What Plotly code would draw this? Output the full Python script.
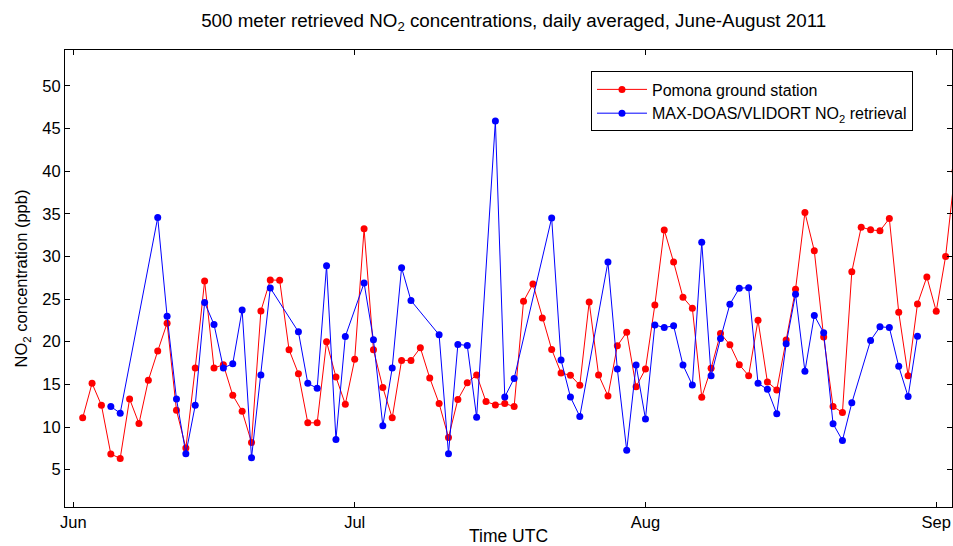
import pandas as pd
import plotly.graph_objects as go

# Pomona ground station, daily means (ppb), one value per day from 2 June 2011
pomona_start = "2011-06-02"
pomona_no2 = [
    11.07, 15.12, 12.55, 6.83, 6.32, 13.29, 10.41, 15.47, 18.9, 22.17,
    11.97, 7.53, 16.92, 27.12, 16.92, 17.3, 13.72, 11.85, 8.19, 23.61,
    27.24, 27.2, 19.06, 16.25, 10.49, 10.49, 19.99, 15.86, 12.67, 17.93,
    33.23, 19.06, 14.62, 11.07, 17.81, 17.81, 19.29, 15.75, 12.75, 8.78,
    13.22, 15.2, 16.1, 12.98, 12.59, 12.75, 12.4, 24.74, 26.77, 22.79,
    19.1, 16.33, 16.06, 14.89, 24.66, 16.1, 13.64, 19.52, 21.12, 14.73,
    16.8, 24.31, 33.11, 29.33, 25.2, 23.92, 13.5, 16.88, 20.97, 19.64,
    17.31, 16.02, 22.52, 15.28, 14.35, 20.19, 26.14, 35.14, 30.66, 20.54,
    12.4, 11.7, 28.21, 33.43, 33.12, 33.0, 34.44, 23.46, 16.02, 24.43,
    27.59, 23.57, 30.0, 40.0,
]
pomona_dates = pd.date_range(pomona_start, periods=len(pomona_no2), freq="D")

# MAX-DOAS / VLIDORT retrieval at 500 m, days with valid retrievals only
maxdoas_dates = [
    "2011-06-05", "2011-06-06", "2011-06-10", "2011-06-11", "2011-06-12",
    "2011-06-13", "2011-06-14", "2011-06-15", "2011-06-16", "2011-06-17",
    "2011-06-18", "2011-06-19", "2011-06-20", "2011-06-21", "2011-06-22",
    "2011-06-25", "2011-06-26", "2011-06-27", "2011-06-28", "2011-06-29",
    "2011-06-30", "2011-07-02", "2011-07-03", "2011-07-04", "2011-07-05",
    "2011-07-06", "2011-07-07", "2011-07-10", "2011-07-11", "2011-07-12",
    "2011-07-13", "2011-07-14", "2011-07-16", "2011-07-17", "2011-07-18",
    "2011-07-22", "2011-07-23", "2011-07-24", "2011-07-25", "2011-07-28",
    "2011-07-29", "2011-07-30", "2011-07-31", "2011-08-01", "2011-08-02",
    "2011-08-03", "2011-08-04", "2011-08-05", "2011-08-06", "2011-08-07",
    "2011-08-08", "2011-08-09", "2011-08-10", "2011-08-11", "2011-08-12",
    "2011-08-13", "2011-08-14", "2011-08-15", "2011-08-16", "2011-08-17",
    "2011-08-18", "2011-08-19", "2011-08-20", "2011-08-21", "2011-08-22",
    "2011-08-23", "2011-08-25", "2011-08-26", "2011-08-27", "2011-08-28",
    "2011-08-29", "2011-08-30",
]
maxdoas_no2 = [
    12.4, 11.62, 34.56, 22.99, 13.29, 6.87, 12.55, 24.59, 22.02, 16.92,
    17.42, 23.73, 6.4, 16.1, 26.3, 21.16, 15.12, 14.54, 28.91, 8.54,
    20.62, 26.88, 20.23, 10.14, 16.92, 28.68, 24.82, 20.81, 6.87, 19.68,
    19.56, 11.15, 45.88, 13.52, 15.7, 34.51, 17.85, 13.52, 11.23, 29.33,
    16.8, 7.26, 17.26, 10.95, 21.97, 21.66, 21.86, 17.26, 14.91, 31.67,
    16.02, 20.38, 24.39, 26.26, 26.34, 15.12, 14.42, 11.54, 19.76, 25.56,
    16.53, 23.07, 21.04, 10.37, 8.43, 12.83, 20.15, 21.74, 21.67, 17.11,
    13.57, 20.65,
]

month_ticks = ["2011-06-01", "2011-07-01", "2011-08-01", "2011-09-01"]
month_labels = ["Jun", "Jul", "Aug", "Sep"]
y_ticks = [5, 10, 15, 20, 25, 30, 35, 40, 45, 50]

font = "Liberation Sans, Arial, Helvetica, sans-serif"

fig = go.Figure()
fig.add_trace(go.Scatter(
    x=pomona_dates, y=pomona_no2, mode="lines+markers",
    name="Pomona ground station",
    line=dict(color="#ff0000", width=1),
    marker=dict(color="#ff0000", size=7),
))
fig.add_trace(go.Scatter(
    x=maxdoas_dates, y=maxdoas_no2, mode="lines+markers",
    name="MAX-DOAS/VLIDORT NO<sub>2</sub> retrieval",
    line=dict(color="#0000ff", width=1),
    marker=dict(color="#0000ff", size=7),
))

axis_common = dict(
    showline=True, linecolor="black", linewidth=1, mirror="ticks",
    ticks="inside", ticklen=5, tickcolor="black", tickwidth=1,
    showgrid=False, zeroline=False,
    tickfont=dict(family=font, size=16.5, color="black"),
)

fig.update_layout(
    width=953, height=546,
    margin=dict(l=65, r=1, t=50, b=39),
    paper_bgcolor="white", plot_bgcolor="white",
    font=dict(family=font, color="black"),
    title=dict(
        text="500 meter retrieved NO<sub>2</sub> concentrations, daily averaged, June-August 2011",
        x=0.539, xanchor="center", y=0.963, yanchor="middle",
        font=dict(family=font, size=18.8, color="black"),
    ),
    xaxis=dict(
        range=["2011-05-31 02:45", "2011-09-02 16:20"],
        tickmode="array", tickvals=month_ticks, ticktext=month_labels,
        title=dict(text="Time UTC", font=dict(family=font, size=17.5), standoff=2),
        **axis_common,
    ),
    yaxis=dict(
        range=[0.62, 54.2],
        tickmode="array", tickvals=y_ticks,
        title=dict(text="NO<sub>2</sub> concentration (ppb)",
                   font=dict(family=font, size=16.5), standoff=10),
        **axis_common,
    ),
    legend=dict(
        x=0.593, y=0.953, xanchor="left", yanchor="top",
        bordercolor="black", borderwidth=1, bgcolor="white",
        font=dict(family=font, size=16, color="black"),
        tracegroupgap=0, itemwidth=50,
    ),
    showlegend=True,
)

fig.write_html("out.html")
